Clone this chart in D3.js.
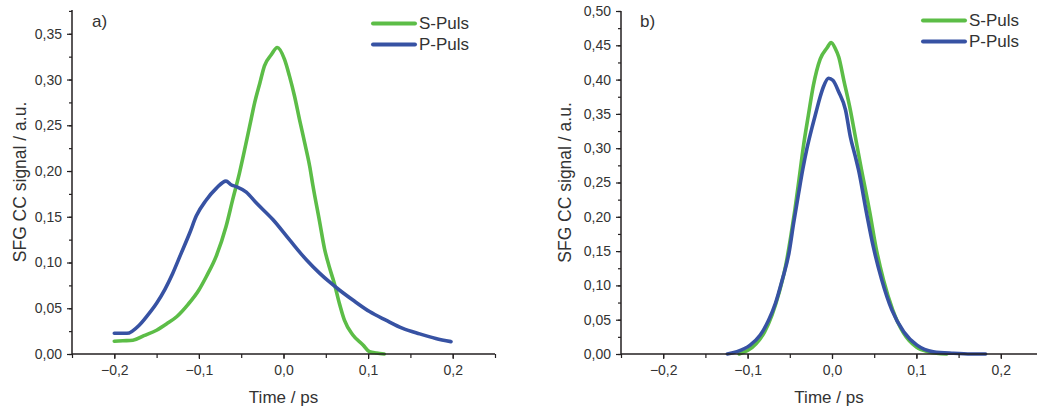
<!DOCTYPE html>
<html>
<head>
<meta charset="utf-8">
<script src="https://cdn.jsdelivr.net/npm/d3@7"></script>
<style>
  body { margin: 0; background: #fff; }
  svg { display: block; font-family: "Liberation Sans", Arial, sans-serif; }
</style>
</head>
<body>
<div id="chart"></div>
<script>
// panel a) - S and P pulse cross-correlation
const timeA_S = [-0.2, -0.19, -0.178, -0.165, -0.15, -0.138, -0.126, -0.113, -0.1, -0.091, -0.0795, -0.068, -0.06, -0.052, -0.046, -0.04, -0.034, -0.028, -0.0225, -0.0145, -0.0074, 0.0012, 0.007, 0.013, 0.019, 0.025, 0.031, 0.0346, 0.0426, 0.0485, 0.054, 0.06, 0.066, 0.072, 0.082, 0.094, 0.1017, 0.11, 0.119];
const sigA_S = [0.014, 0.0145, 0.015, 0.02, 0.026, 0.033, 0.041, 0.054, 0.07, 0.085, 0.107, 0.139, 0.169, 0.198, 0.223, 0.249, 0.275, 0.296, 0.315, 0.327, 0.335, 0.322, 0.304, 0.282, 0.256, 0.231, 0.205, 0.185, 0.145, 0.115, 0.0956, 0.0774, 0.0555, 0.037, 0.0208, 0.0099, 0.0025, 0.001, 0.0];

const timeA_P = [-0.2, -0.185, -0.17, -0.16, -0.15, -0.14, -0.131, -0.121, -0.111, -0.103, -0.0915, -0.0795, -0.068, -0.062, -0.056, -0.044, -0.032, -0.0126, 0.007, 0.027, 0.0426, 0.054, 0.066, 0.082, 0.1017, 0.121, 0.141, 0.161, 0.18, 0.198];
const sigA_P = [0.0226, 0.0226, 0.032, 0.043, 0.0555, 0.071, 0.088, 0.11, 0.132, 0.151, 0.168, 0.181, 0.189, 0.185, 0.183, 0.177, 0.165, 0.147, 0.125, 0.103, 0.0884, 0.079, 0.07, 0.059, 0.0464, 0.037, 0.028, 0.022, 0.017, 0.0135];

// panel b)
const timeB_S = [-0.11, -0.1, -0.09, -0.08, -0.071, -0.063, -0.055, -0.049, -0.044, -0.039, -0.0336, -0.028, -0.022, -0.014, -0.006, -0.001, 0.004, 0.008, 0.014, 0.0217, 0.0276, 0.0335, 0.045, 0.052, 0.061, 0.072, 0.085, 0.1, 0.115, 0.136];
const sigB_S = [0.0, 0.005, 0.015, 0.032, 0.057, 0.088, 0.128, 0.17, 0.21, 0.255, 0.305, 0.348, 0.392, 0.43, 0.446, 0.454, 0.445, 0.433, 0.399, 0.356, 0.317, 0.278, 0.205, 0.156, 0.108, 0.064, 0.03, 0.01, 0.003, 0.0];

const timeB_P = [-0.124, -0.1126, -0.097, -0.085, -0.075, -0.067, -0.059, -0.051, -0.0455, -0.0396, -0.0345, -0.0296, -0.0237, -0.019, -0.014, -0.01, -0.004, 0.001, 0.008, 0.016, 0.0217, 0.0276, 0.0315, 0.041, 0.049, 0.059, 0.071, 0.085, 0.1007, 0.12, 0.144, 0.165, 0.182];
const sigB_P = [0.0, 0.0034, 0.013, 0.0277, 0.0496, 0.074, 0.108, 0.147, 0.1905, 0.234, 0.27, 0.3, 0.33, 0.352, 0.375, 0.39, 0.402, 0.399, 0.382, 0.356, 0.317, 0.288, 0.268, 0.205, 0.156, 0.108, 0.064, 0.0325, 0.013, 0.0034, 0.001, 0.0, 0.0];

const seriesNames = ["S-Puls", "P-Puls"];
const seriesColors = ["#5cbd47", "#3752a3"];
const xTicks = [-0.2, -0.1, 0.0, 0.1, 0.2];
const yTicksA = [0, 0.05, 0.1, 0.15, 0.2, 0.25, 0.3, 0.35];
const yTicksB = [0, 0.05, 0.1, 0.15, 0.2, 0.25, 0.3, 0.35, 0.4, 0.45, 0.5];

const W = 1037, H = 407;
const axisColor = "#231f20";
const textColor = "#333";
const fmt = d => d3.format(".2f")(d).replace(".", ",");
const fmtX = d => d3.format(".1f")(d).replace(".", ",").replace("-0,0", "0,0");

const svg = d3.select("#chart").append("svg")
    .attr("width", W)
    .attr("height", H);

const panels = [
    { label: "a)", left: 72, right: 495, top: 10, bottom: 354, yMax: 0.376, yTicks: yTicksA,
      data: [[timeA_S, sigA_S], [timeA_P, sigA_P]], titleX: 20, legX: 373, legY: 23.5, labX: 92 },
    { label: "b)", left: 621, right: 1043, top: 11, bottom: 354, yMax: 0.5, yTicks: yTicksB,
      data: [[timeB_S, sigB_S], [timeB_P, sigB_P]], titleX: 565, legX: 923, legY: 20.5, labX: 640 }
];

panels.forEach(p => {
    const x = d3.scaleLinear().domain([-0.25, 0.25]).range([p.left, p.right]);
    const y = d3.scaleLinear().domain([0, p.yMax]).range([p.bottom, p.top]);
    const g = svg.append("g");

    // curves
    const line = d3.line()
        .x(d => x(d[0]))
        .y(d => y(d[1]))
        .curve(d3.curveMonotoneX);

    p.data.forEach((s, i) => {
        const pts = s[0].map((t, k) => [t, s[1][k]]);
        g.append("path")
            .datum(pts)
            .attr("fill", "none")
            .attr("stroke", seriesColors[i])
            .attr("stroke-width", 3.6)
            .attr("stroke-linejoin", "round")
            .attr("stroke-linecap", "round")
            .attr("d", line);
    });

    // minor ticks
    const xMinor = d3.range(-0.25, 0.2501, 0.05).map(v => +v.toFixed(3));
    g.append("g")
        .attr("transform", `translate(0,${p.bottom})`)
        .call(d3.axisBottom(x).tickValues(xMinor).tickSize(4).tickFormat(""))
        .call(a => a.select(".domain").remove())
        .call(a => a.selectAll("line").attr("stroke", axisColor).attr("stroke-width", 1.2));

    const yMinor = d3.range(0, p.yMax + 0.0001, 0.025).map(v => +v.toFixed(3));
    g.append("g")
        .attr("transform", `translate(${p.left},0)`)
        .call(d3.axisLeft(y).tickValues(yMinor).tickSize(3).tickFormat(""))
        .call(a => a.select(".domain").remove())
        .call(a => a.selectAll("line").attr("stroke", axisColor).attr("stroke-width", 1.2));

    // major axes
    const xAxis = g.append("g")
        .attr("transform", `translate(0,${p.bottom})`)
        .call(d3.axisBottom(x).tickValues(xTicks).tickSize(5).tickSizeOuter(0).tickPadding(6).tickFormat(fmtX));
    xAxis.select(".domain").attr("stroke", axisColor).attr("stroke-width", 1.5)
        .attr("d", `M${p.left},0H${Math.min(p.right, W)}`);
    xAxis.selectAll("line").attr("stroke", axisColor).attr("stroke-width", 1.2);
    xAxis.selectAll("text").attr("fill", textColor).style("font-size", "14px")
        .style("font-family", "'Liberation Sans', Arial, sans-serif");

    const yAxis = g.append("g")
        .attr("transform", `translate(${p.left},0)`)
        .call(d3.axisLeft(y).tickValues(p.yTicks).tickSize(5).tickSizeOuter(0).tickPadding(5).tickFormat(fmt));
    yAxis.select(".domain").attr("stroke", axisColor).attr("stroke-width", 1.5)
        .attr("d", `M0,${p.top}V${p.bottom}`);
    yAxis.selectAll("line").attr("stroke", axisColor).attr("stroke-width", 1.2);
    yAxis.selectAll("text").attr("fill", textColor).style("font-size", "14px")
        .style("font-family", "'Liberation Sans', Arial, sans-serif");

    // axis titles
    g.append("text")
        .attr("x", (x(-0.25) + x(0.25)) / 2 - (p.right > W ? 3 : 0))
        .attr("y", 403)
        .attr("text-anchor", "middle")
        .attr("fill", textColor)
        .style("font-size", "17px")
        .text("Time / ps");

    g.append("text")
        .attr("transform", `translate(${p.titleX},${(p.top + p.bottom) / 2}) rotate(-90)`)
        .attr("text-anchor", "middle")
        .attr("dy", "0.35em")
        .attr("fill", textColor)
        .style("font-size", "17.5px")
        .text("SFG CC signal / a.u.");

    // panel label
    g.append("text")
        .attr("x", p.labX)
        .attr("y", 27)
        .attr("fill", textColor)
        .style("font-size", "17px")
        .text(p.label);

    // legend
    seriesNames.forEach((name, i) => {
        const ly = p.legY + i * 21;
        g.append("line")
            .attr("x1", p.legX).attr("x2", p.legX + 42)
            .attr("y1", ly).attr("y2", ly)
            .attr("stroke", seriesColors[i])
            .attr("stroke-width", 4)
            .attr("stroke-linecap", "round");
        g.append("text")
            .attr("x", p.legX + 46)
            .attr("y", ly)
            .attr("dy", "0.35em")
            .attr("fill", textColor)
            .style("font-size", "17px")
            .text(name);
    });
});
</script>
</body>
</html>
